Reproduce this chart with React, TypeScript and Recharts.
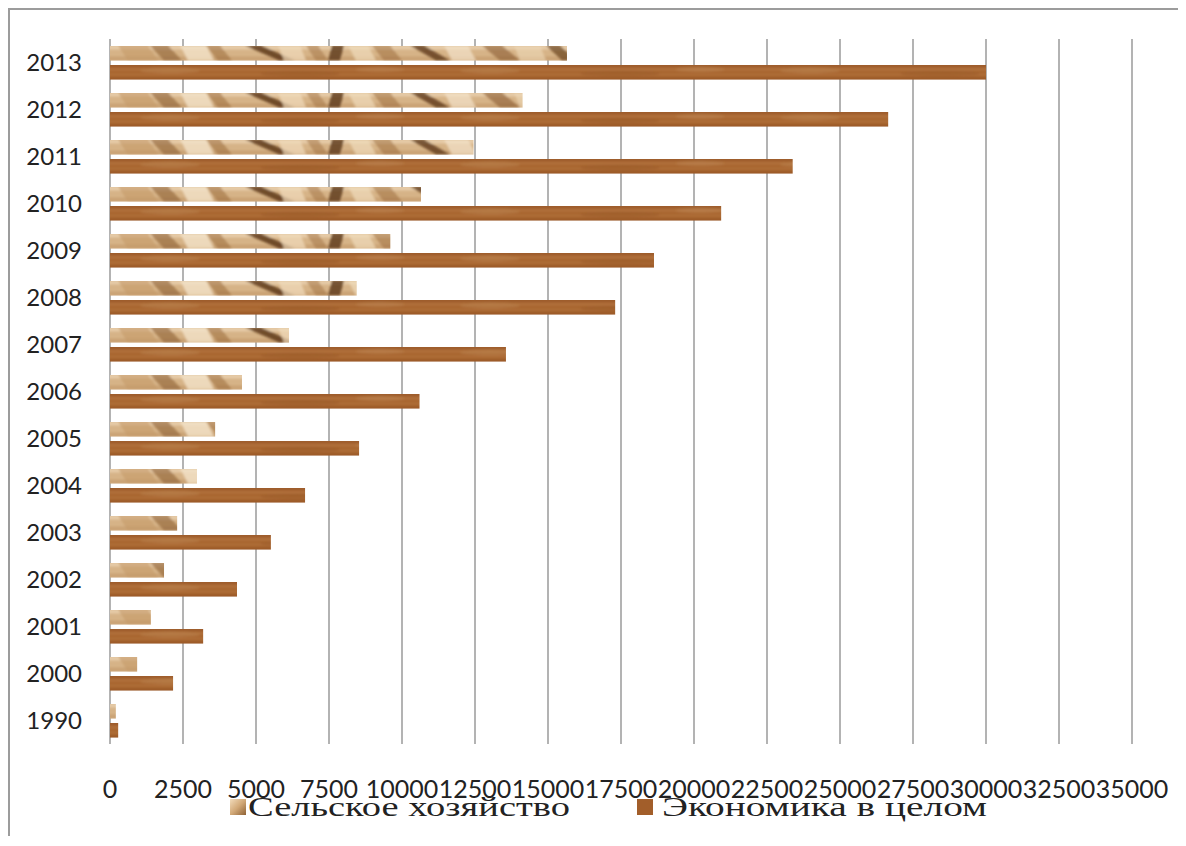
import React from 'react';
import { BarChart, Bar, XAxis, YAxis, CartesianGrid } from 'recharts';

// Average monthly wage, rubles
const years = ['2013', '2012', '2011', '2010', '2009', '2008', '2007', '2006', '2005', '2004', '2003', '2002', '2001', '2000', '1990'];
const agriculture = [15650, 14130, 12450, 10650, 9600, 8450, 6130, 4520, 3600, 2980, 2300, 1850, 1400, 930, 200];
const economy = [30000, 26650, 23380, 20930, 18630, 17300, 13560, 10600, 8530, 6680, 5510, 4350, 3190, 2160, 280];
const xTicks = [0, 2500, 5000, 7500, 10000, 12500, 15000, 17500, 20000, 22500, 25000, 27500, 30000, 32500, 35000];
const seriesNames = ['Сельское хозяйство', 'Экономика в целом'];

const data = years.map((year, i) => ({ year, agriculture: agriculture[i], economy: economy[i] }));

const CHART_W = 1172;
const CHART_H = 836;
const AXIS_W = 100;
const TOP = 29;
const PLOT_H = 705;

// diagonal streaks of the wheat texture: [x, width, slant, colour, opacity]
const wheatStreaks: [number, number, number, string, number][] = [
  [8, 30, 10, '#c59a68', 0.6],
  [40, 18, 14, '#8d5f33', 0.6],
  [70, 26, 8, '#f3e2c8', 0.8],
  [96, 14, 12, '#9b6b3c', 0.55],
  [135, 16, 34, '#5e3a1a', 0.85],
  [168, 22, 6, '#f1dcbc', 0.7],
  [196, 12, 10, '#a07040', 0.5],
  [222, 12, -4, '#5a3718', 0.8],
  [238, 20, 8, '#f0dbbb', 0.7],
  [262, 18, 12, '#9a6a3a', 0.5],
  [300, 14, 26, '#5e3a1a', 0.8],
  [334, 24, 8, '#f3e3cb', 0.7],
  [372, 20, 18, '#8a5c30', 0.6],
  [404, 26, 6, '#efd9b8', 0.6],
  [436, 14, 16, '#6a4220', 0.7],
];

const FrameDefs = () => (
  <svg width={0} height={0} style={{ position: 'absolute' }}>
    <defs>
      <filter id="softTex" x="-5%" y="-20%" width="110%" height="140%">
        <feGaussianBlur stdDeviation="1.3" />
      </filter>
      <pattern id="wheatTex" patternUnits="userSpaceOnUse" x={AXIS_W} y={TOP + 6.5} width={470} height={47}>
        <rect x={0} y={0} width={470} height={15} fill="#d6b387" />
        <g filter="url(#softTex)">
          <rect x={-5} y={0} width={480} height={4} fill="#ecd6b6" opacity={0.7} />
          <rect x={-5} y={11} width={480} height={4} fill="#b8895a" opacity={0.4} />
          {wheatStreaks.map(([x, w, s, c, o], i) => (
            <polygon key={i} points={`${x},0 ${x + w},0 ${x + w + s},15 ${x + s},15`} fill={c} opacity={o} />
          ))}
        </g>
      </pattern>
      <pattern id="woodTex" patternUnits="userSpaceOnUse" x={AXIS_W} y={TOP + 25.5} width={320} height={47}>
        <rect x={0} y={0} width={320} height={15} fill="#a7642e" />
        <g filter="url(#softTex)">
          <rect x={-5} y={0} width={330} height={2} fill="#8e5024" opacity={0.6} />
          <rect x={-5} y={4} width={330} height={2} fill="#c08652" opacity={0.45} />
          <rect x={-5} y={9} width={330} height={2} fill="#bf8550" opacity={0.35} />
          <rect x={-5} y={13} width={330} height={2} fill="#8a4b1e" opacity={0.5} />
          <ellipse cx={60} cy={6} rx={30} ry={3} fill="#c4905e" opacity={0.35} />
          <ellipse cx={190} cy={9} rx={40} ry={3} fill="#8b4c20" opacity={0.3} />
          <ellipse cx={270} cy={5} rx={25} ry={2.5} fill="#c79360" opacity={0.35} />
        </g>
      </pattern>
      <linearGradient id="wheatIcon" x1="0" y1="0" x2="1" y2="1">
        <stop offset="0" stopColor="#f2dcbc" />
        <stop offset="0.5" stopColor="#d2a978" />
        <stop offset="1" stopColor="#8f6235" />
      </linearGradient>
    </defs>
  </svg>
);

const LegendRow = () => (
  <svg width={CHART_W} height={44} style={{ position: 'absolute', left: 0, top: 780 }}>
    <rect x={220} y={9} width={16} height={16} fill="url(#wheatIcon)" />
    <text x={238} y={26} fontFamily="'Liberation Serif', serif" fontSize={27} fill="#222" textLength={322} lengthAdjust="spacingAndGlyphs">
      {seriesNames[0]}
    </text>
    <rect x={627} y={9} width={16} height={16} fill="#a25e2a" />
    <text x={652} y={26} fontFamily="'Liberation Serif', serif" fontSize={27} fill="#222" textLength={325} lengthAdjust="spacingAndGlyphs">
      {seriesNames[1]}
    </text>
  </svg>
);

export default function App() {
  return (
    <div
      style={{
        position: 'relative',
        width: CHART_W,
        height: CHART_H,
        marginBottom: -10,
        borderTop: '2px solid #9c9c9c',
        borderLeft: '2px solid #9c9c9c',
        borderRight: '2px solid #9c9c9c',
        background: '#fff',
      }}
    >
      <FrameDefs />
      <BarChart
        width={CHART_W}
        height={CHART_H}
        data={data}
        layout="vertical"
        margin={{ top: TOP, right: CHART_W - AXIS_W - 1022, bottom: CHART_H - TOP - PLOT_H - 40, left: 0 }}
        barSize={15}
        barGap={4}
      >
        <CartesianGrid horizontal={false} stroke="#9a9a9a" strokeWidth={1.5} />
        <XAxis
          type="number"
          domain={[0, 35000]}
          ticks={xTicks}
          interval={0}
          axisLine={false}
          tickLine={false}
          tickSize={0}
          tickMargin={36}
          height={40}
          tick={{ fontFamily: 'Lato, sans-serif', fontSize: 25, fill: '#222' }}
        />
        <YAxis
          type="category"
          dataKey="year"
          width={AXIS_W}
          axisLine={false}
          tickLine={false}
          tickSize={0}
          tickMargin={28}
          interval={0}
          tick={{ fontFamily: 'Lato, sans-serif', fontSize: 24, fill: '#222' }}
        />
        <Bar dataKey="agriculture" name={seriesNames[0]} fill="url(#wheatTex)" isAnimationActive={false} />
        <Bar dataKey="economy" name={seriesNames[1]} fill="url(#woodTex)" isAnimationActive={false} />
      </BarChart>
      <LegendRow />
    </div>
  );
}
